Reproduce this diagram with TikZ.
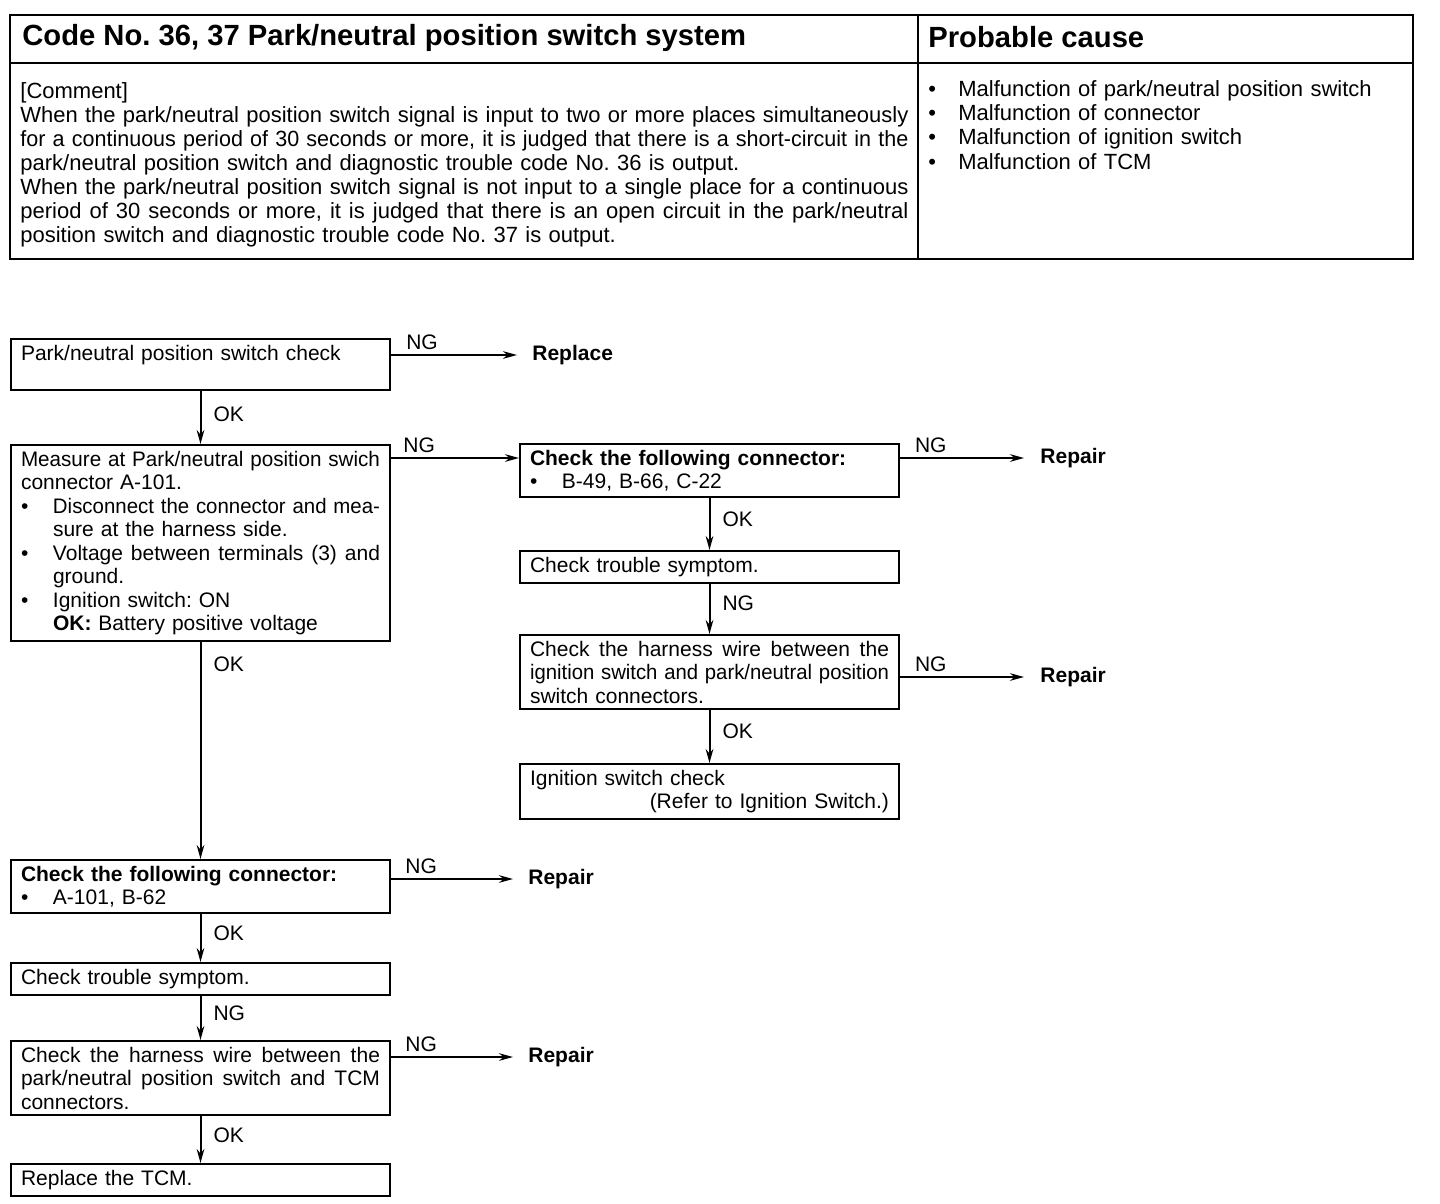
\documentclass[tikz,border=0pt]{standalone}
\usepackage{fontspec}
\setmainfont{Liberation Sans}
\usetikzlibrary{arrows.meta,positioning}
\frenchspacing
\newcommand\boxfont{\fontsize{10.5}{11.75}\selectfont}
\newsavebox\fitbox
\newlength\fitw
% justified line, squeezed if it is too long
\newcommand\fitspace{\spaceskip=0.3333em plus 1em minus 0.06em\relax}
\newcommand\fitto[2]{\leavevmode\sbox\fitbox{\fitspace#2}%
  \ifdim\wd\fitbox>#1\relax\resizebox{#1}{\height}{\usebox\fitbox}\else\hbox to #1{\fitspace#2}\fi}
\newcommand\bul{\makebox[16pt][l]{\textbullet}}
\newcommand\jl[1]{\fitto{\linewidth}{#1}}
\newcommand\bulj[1]{\bul\setlength\fitw{\linewidth}\addtolength\fitw{-16pt}\fitto{\fitw}{#1}}

\begin{document}
\begin{tikzpicture}[x=0.5pt, y=-0.5pt,
    box/.style={draw, line width=1pt, anchor=north west, text width=179.5pt,
      inner xsep=5pt, inner ysep=3pt, align=left, font=\boxfont},
    outcome/.style={anchor=west, inner sep=0pt, font=\boxfont\bfseries},
    flow/.style={-{Stealth[length=7pt,width=3.8pt]}, line width=1pt},
    lbl/.style={font=\boxfont, inner sep=2pt}]
  \useasboundingbox (0,0) rectangle (1440,1204);
  % code table
  \draw[line width=1.3pt] (10,15) rectangle (1413,259);
  \draw[line width=1pt] (10,63) -- (1413,63) (918,15) -- (918,259);
  \node[anchor=west, inner sep=0pt, font=\fontsize{14.6}{16}\selectfont\bfseries] (title) at (22,38)
    {Code No. 36, 37 Park/neutral position switch system};
  \node[anchor=west, inner sep=0pt, font=\fontsize{14.6}{16}\selectfont\bfseries] (cause) at (928,37)
    {Probable cause};
  \node[anchor=north west, inner sep=0pt, text width=444pt, align=left,
    font=\fontsize{11}{12}\selectfont] (comment) at (20,82)
    {[Comment]\\
     \jl{When the park/neutral position switch signal is input to two or more places simultaneously}\\
     \jl{for a continuous period of 30 seconds or more, it is judged that there is a short-circuit in the}\\
     park/neutral position switch and diagnostic trouble code No. 36 is output.\\
     \jl{When the park/neutral position switch signal is not input to a single place for a continuous}\\
     \jl{period of 30 seconds or more, it is judged that there is an open circuit in the park/neutral}\\
     position switch and diagnostic trouble code No. 37 is output.};
  \node[anchor=north west, inner sep=0pt, text width=240pt, align=left,
    font=\fontsize{11}{12.15}\selectfont] (causes) at (928,80)
    {\makebox[15pt][l]{\textbullet}Malfunction of park/neutral position switch\\
     \makebox[15pt][l]{\textbullet}Malfunction of connector\\
     \makebox[15pt][l]{\textbullet}Malfunction of ignition switch\\
     \makebox[15pt][l]{\textbullet}Malfunction of TCM};

  % left column
  \node[box] (pnchk) at (10,338) {Park/neutral position switch check\\\mbox{}};
  \node[box] (meas) at (10,444)
    {\jl{Measure at Park/neutral position swich}\\
     connector A-101.\\
     \bulj{Disconnect the connector and mea-}\\
     \hspace*{16pt}sure at the harness side.\\
     \bulj{Voltage between terminals (3) and}\\
     \hspace*{16pt}ground.\\
     \bul Ignition switch: ON\\
     \hspace*{16pt}\textbf{OK:} Battery positive voltage};
  \node[box] (conn2) at (10,859) {\textbf{Check the following connector:}\\ \bul A-101, B-62};
  \node[box] (sym2) at (10,962) {Check trouble symptom.};
  \node[box] (harn2) at (10,1040)
    {\jl{Check the harness wire between the}\\
     \jl{park/neutral position switch and TCM}\\
     connectors.};
  \node[box] (tcm) at (10,1163) {Replace the TCM.};

  % right column
  \node[box] (conn1) at (519,443) {\textbf{Check the following connector:}\\ \bul B-49, B-66, C-22};
  \node[box] (sym1) at (519,550) {Check trouble symptom.};
  \node[box] (harn1) at (519,634)
    {\jl{Check the harness wire between the}\\
     \jl{ignition switch and park/neutral position}\\
     switch connectors.};
  \node[box] (ignchk) at (519,763) {Ignition switch check\\ \mbox{}\hfill(Refer to Ignition Switch.)};

  % results
  \node[outcome] (replace) at (532,355) {Replace};
  \node[outcome] (repair1) at (1040,458) {Repair};
  \node[outcome] (repair2) at (1040,677) {Repair};
  \node[outcome] (repair3) at (528,879) {Repair};
  \node[outcome] (repair4) at (528,1057) {Repair};

  % OK / NG flow
  \draw[flow] (pnchk.south) -- node[lbl, right=4pt, pos=0.45] {OK} (meas.north);
  \draw[flow] (meas.south) -- node[lbl, right=4pt, pos=0.1] {OK} (conn2.north);
  \draw[flow] (conn2.south) -- node[lbl, right=4pt, pos=0.4] {OK} (sym2.north);
  \draw[flow] (sym2.south) -- node[lbl, right=4pt, pos=0.4] {NG} (harn2.north);
  \draw[flow] (harn2.south) -- node[lbl, right=4pt, pos=0.4] {OK} (tcm.north);
  \draw[flow] (conn1.south) -- node[lbl, right=4pt, pos=0.4] {OK} (sym1.north);
  \draw[flow] (sym1.south) -- node[lbl, right=4pt, pos=0.4] {NG} (harn1.north);
  \draw[flow] (harn1.south) -- node[lbl, right=4pt, pos=0.4] {OK} (ignchk.north);

  \draw[flow, shorten >=7.5pt] (pnchk.east |- replace) -- node[lbl, above, pos=0.22] {NG} (replace.west);
  \draw[flow] (meas.east |- repair1) -- node[lbl, above, pos=0.22] {NG} (conn1.west |- repair1);
  \draw[flow, shorten >=8pt] (conn1.east |- repair1) -- node[lbl, above, pos=0.22] {NG} (repair1.west);
  \draw[flow, shorten >=8pt] (harn1.east |- repair2) -- node[lbl, above, pos=0.22] {NG} (repair2.west);
  \draw[flow, shorten >=7.5pt] (conn2.east |- repair3) -- node[lbl, above, pos=0.22] {NG} (repair3.west);
  \draw[flow, shorten >=7.5pt] (harn2.east |- repair4) -- node[lbl, above, pos=0.22] {NG} (repair4.west);
\end{tikzpicture}
\end{document}
